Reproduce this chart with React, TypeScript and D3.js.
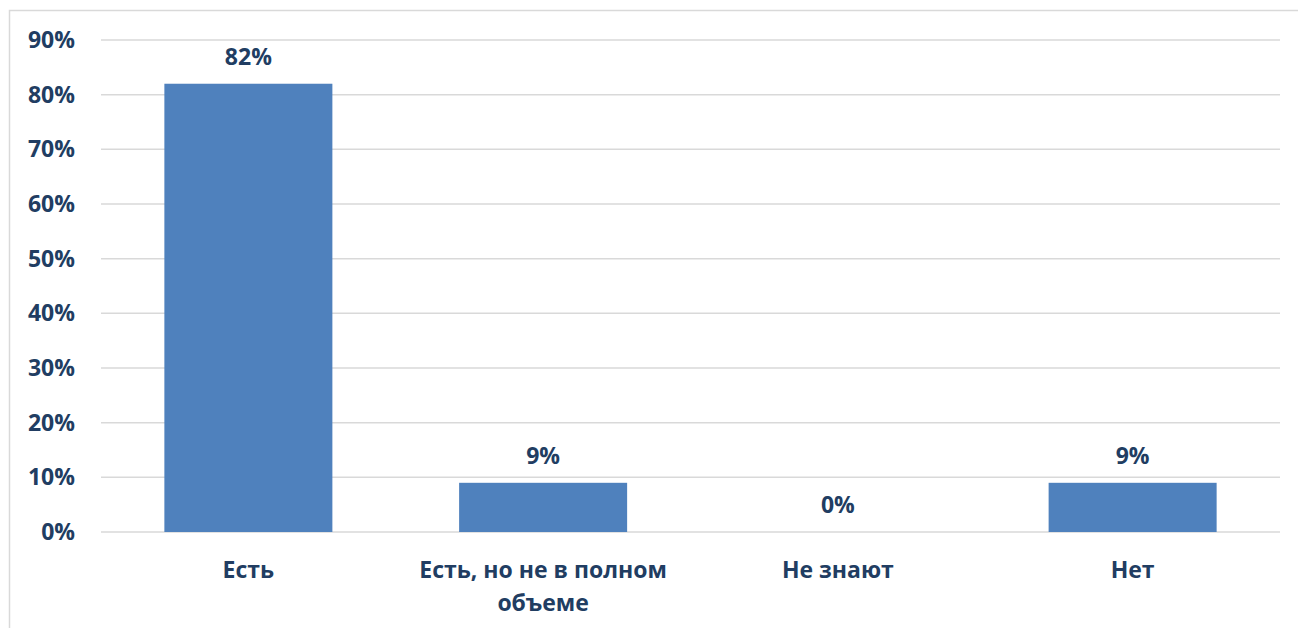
import React from 'react';
import * as d3 from 'd3';

const categories = ['Есть', 'Есть, но не в полном объеме', 'Не знают', 'Нет'];
const categoryLines = [['Есть'], ['Есть, но не в полном', 'объеме'], ['Не знают'], ['Нет']];
const values = [82, 9, 0, 9];
const yTicks = [0, 10, 20, 30, 40, 50, 60, 70, 80, 90];

const W = 1298;
const H = 628;
const margin = {left: 101, right: 18, top: 40, bottom: 96};
const textColor = '#213D62';
const font = '"Open Sans", sans-serif';
const fontSize = 23;

export default function App() {
  const x = d3.scaleBand()
    .domain(categories)
    .range([margin.left, W - margin.right])
    .paddingInner(0.43)
    .paddingOuter(0.215);
  const y = d3.scaleLinear()
    .domain([0, 90])
    .range([H - margin.bottom, margin.top]);

  return (
    <svg width={W} height={H} style={{position: 'absolute', left: 0, top: 0}}>
      <rect x={0} y={0} width={W} height={H} fill="#fff"/>
      {/* chart frame */}
      <path d={`M9.5,${H}V10.5H${W}`} fill="none" stroke="#D9D9D9" strokeWidth={1.5}/>

      {yTicks.map((t) => (
        <g key={t}>
          <line x1={margin.left} x2={W - margin.right} y1={y(t)} y2={y(t)}
            stroke="#D9D9D9" strokeWidth={1.5}/>
          <text x={75} y={y(t)} dy="0.35em" textAnchor="end"
            fontFamily={font} fontWeight={700} fontSize={fontSize} fill={textColor}>
            {t + '%'}
          </text>
        </g>
      ))}

      {values.map((v, i) => {
        const c = categories[i];
        const bx = x(c) as number;
        return (
          <g key={c}>
            <rect x={bx} y={y(v)} width={x.bandwidth()} height={y(0) - y(v)} fill="#4F81BD"/>
            <text x={bx + x.bandwidth() / 2} y={y(v) - 27} dy="0.35em" textAnchor="middle"
              fontFamily={font} fontWeight={700} fontSize={fontSize} fill={textColor}>
              {v + '%'}
            </text>
            {categoryLines[i].map((line, j) => (
              <text key={j} x={bx + x.bandwidth() / 2} y={570 + j * 33} dy="0.35em"
                textAnchor="middle" fontFamily={font} fontWeight={700} fontSize={fontSize} fill={textColor}>
                {line}
              </text>
            ))}
          </g>
        );
      })}
    </svg>
  );
}
